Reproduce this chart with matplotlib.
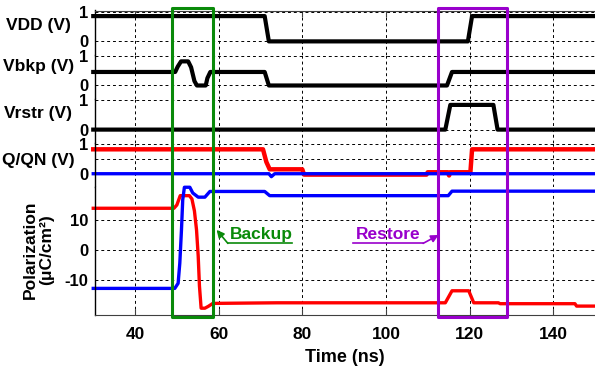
import matplotlib
matplotlib.use("Agg")
import matplotlib.pyplot as plt
from matplotlib.patches import Rectangle
from matplotlib.transforms import blended_transform_factory

plt.rcParams["font.family"] = ["Liberation Sans", "DejaVu Sans"]
plt.rcParams["font.weight"] = "bold"

# traces (time in ns)
vdd_t = [30, 71.0, 72.0, 119.6, 120.6, 150]
vdd_v = [0.86, 0.86, 0.0, 0.0, 0.86, 0.86]

vbkp_t = [30, 49.6, 50.2, 51.0, 52.7, 53.4, 54.2, 54.8, 56.9, 57.3, 58.0, 71.0, 72.0, 114.6, 115.8, 150]
vbkp_v = [0.46, 0.46, 0.64, 0.82, 0.82, 0.62, 0.15, 0.0, 0.0, 0.25, 0.46, 0.46, 0.0, 0.0, 0.46, 0.46]

vrstr_t = [30, 114.2, 115.4, 125.7, 126.7, 150]
vrstr_v = [0.0, 0.0, 0.84, 0.84, 0.0, 0.0]

q_t = [30, 70.6, 71.4, 72.2, 80.0, 80.4, 109.7, 110.0, 114.8, 115.1, 115.4, 120.2, 120.6, 150]
q_v = [0.83, 0.83, 0.4, 0.15, 0.15, -0.03, -0.03, 0.05, 0.05, -0.06, 0.05, 0.05, 0.83, 0.83]

qn_t = [30, 72.0, 72.6, 73.4, 150]
qn_v = [0.0, 0.0, -0.1, 0.0, 0.0]

pq_t = [30, 49.3, 50.0, 50.8, 53.0, 53.6, 54.2, 54.7, 55.1, 55.4, 55.8, 56.7, 57.5, 58.6,
        74.0, 114.2, 115.8, 119.8, 121.0, 126.9, 127.3, 145.2, 145.6, 150]
pq_v = [13.9, 13.9, 15.0, 18.1, 18.1, 17.0, 13.0, 6.7, -2.0, -12.0, -19.4, -19.4, -18.8, -17.8,
        -17.6, -17.6, -13.6, -13.6, -17.6, -17.6, -17.9, -17.9, -18.7, -18.7]

pqn_t = [30, 49.5, 50.3, 50.7, 51.1, 51.4, 51.8, 53.1, 53.8, 55.1, 56.7, 57.9, 71.0, 72.2, 114.9, 115.8, 150]
pqn_v = [-12.8, -12.8, -11.1, -4.4, 6.7, 16.7, 20.9, 20.9, 19.0, 17.6, 17.6, 19.5, 19.5, 18.1, 18.1, 19.6, 19.6]

lane_labels = ["VDD (V)", "Vbkp (V)", "Vrstr (V)", "Q/QN (V)"]
x_ticks = [40, 60, 80, 100, 120, 140]
pol_ticks = [-10, 0, 10]

backup_span = (48.9, 58.7)
restore_span = (112.5, 128.9)

fig, axes = plt.subplots(5, 1, figsize=(5.95, 3.73), dpi=100, sharex=True,
                         gridspec_kw=dict(height_ratios=[44.1, 44.1, 44.1, 44.1, 127.5], hspace=0))
fig.subplots_adjust(left=94.5/595, right=1.0, top=1-10.5/373, bottom=1-314.5/373)

grid_kw = dict(color="black", lw=0.7, ls=(0, (3, 3)))
spine_col = "#404040"

for i, ax in enumerate(axes):
    ax.set_xlim(30.3, 150)
    ax.set_xticks(x_ticks)
    ax.set_axisbelow(True)
    ax.grid(True, **grid_kw)
    for s in ["top", "bottom", "right"]:
        ax.spines[s].set_visible(False)
    ax.spines["left"].set_color("black")
    ax.spines["left"].set_linewidth(1.0)
    ax.tick_params(axis="y", length=0, labelsize=12, pad=4.5)
    ax.tick_params(axis="x", which="both", bottom=False, top=False, labelbottom=False)
    if i < 4:
        ax.set_ylim(-0.45, 1.05)
        if i == 3:
            ax.set_yticks([0, 0.5, 1])
            ax.set_yticklabels(["0", "", "1"])
        else:
            ax.set_yticks([0, 1])
            ax.set_yticklabels(["0", "1"])
        ax.text(-0.112, [0.53, 0.65, 0.55, 0.45][i], lane_labels[i],
                transform=blended_transform_factory(ax.transAxes, ax.transData),
                ha="center", va="center", fontsize=12.5, fontweight="bold")

top_ax = axes[0]
top_ax.spines["top"].set_visible(True)
top_ax.spines["top"].set_color(spine_col)
top_ax.tick_params(axis="x", top=True, direction="in", length=4, color=spine_col)

axes[0].plot(vdd_t, vdd_v, color="black", lw=3, clip_on=False, solid_joinstyle="round")
axes[1].plot(vbkp_t, vbkp_v, color="black", lw=3, clip_on=False, solid_joinstyle="round")
axes[2].plot(vrstr_t, vrstr_v, color="black", lw=3, clip_on=False, solid_joinstyle="round")
axes[3].plot(q_t, q_v, color="red", lw=3.2, clip_on=False, solid_joinstyle="round")
axes[3].plot(qn_t, qn_v, color="blue", lw=2.4, clip_on=False, solid_joinstyle="round")

pol = axes[4]
pol.set_ylim(-21.5, 21)
pol.set_yticks(pol_ticks)
pol.set_yticklabels(["-10", "0", "10"])
pol.plot(pq_t, pq_v, color="red", lw=2.4, clip_on=False, solid_joinstyle="round")
pol.plot(pqn_t, pqn_v, color="blue", lw=2.4, clip_on=False, solid_joinstyle="round")
pol.spines["bottom"].set_visible(True)
pol.spines["bottom"].set_color(spine_col)
pol.tick_params(axis="x", bottom=True, labelbottom=True, direction="in", length=4,
                color=spine_col, labelsize=12.5, pad=9)
pol.set_xlabel("Time (ns)", fontsize=13, fontweight="bold", labelpad=5)
pol.text(-0.112, 0, "Polarization\n(\u03bcC/cm\u00b2)", rotation=90, ha="center", va="center",
         multialignment="center", fontsize=12.5, fontweight="bold", linespacing=1.05,
         transform=blended_transform_factory(pol.transAxes, pol.transData))

# highlight boxes spanning the whole stack
box_tr = blended_transform_factory(pol.transData, fig.transFigure)
y0, y1 = 1 - 317.3/373, 1 - 8.3/373
for (a, b), col in [(backup_span, "#0a8a0a"), (restore_span, "#9900cc")]:
    fig.add_artist(Rectangle((a, y0), b - a, y1 - y0, fill=False, edgecolor=col, lw=2.2,
                             joinstyle="round", transform=box_tr, zorder=10))

# annotations
green = "#0a8a0a"
purple = "#9900cc"
pol.text(62.6, 5.3, "Backup", color=green, fontsize=12.5, fontweight="bold", va="center", ha="left")
pol.plot([62.2, 77.5], [2.2, 2.2], color=green, lw=1.2, clip_on=False)
pol.annotate("", xy=(59.5, 6.7), xytext=(62.2, 2.2),
             arrowprops=dict(arrowstyle="-|>", color=green, lw=1.2, mutation_scale=11, shrinkA=0, shrinkB=0))
pol.text(92.9, 5.3, "Restore", color=purple, fontsize=12.5, fontweight="bold", va="center", ha="left")
pol.plot([92.1, 108.9], [2.2, 2.2], color=purple, lw=1.2, clip_on=False)
pol.annotate("", xy=(112.6, 5.0), xytext=(108.9, 2.2),
             arrowprops=dict(arrowstyle="-|>", color=purple, lw=1.2, mutation_scale=11, shrinkA=0, shrinkB=0))

fig.savefig("out.png", dpi=100)
